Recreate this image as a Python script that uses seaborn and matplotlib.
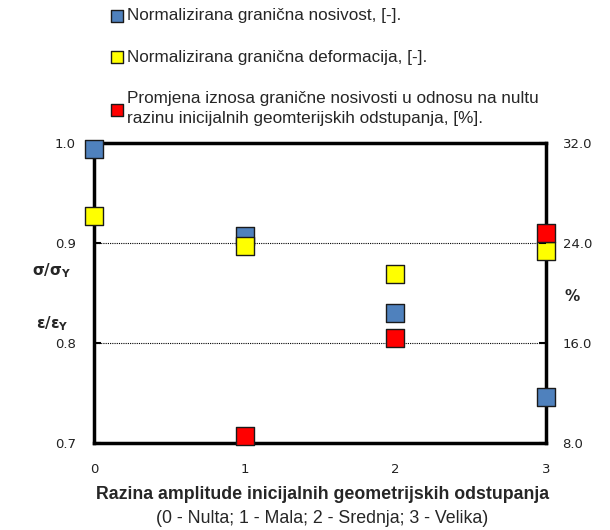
import matplotlib
matplotlib.use("Agg")
import matplotlib.pyplot as plt
import seaborn as sns
import pandas as pd

# Levels of initial geometric imperfection amplitude
levels = [0, 1, 2, 3]
# Normalized ultimate capacity, [-]
capacity = [0.994, 0.907, 0.830, 0.746]
# Normalized ultimate strain, [-]
strain = [0.927, 0.897, 0.869, 0.892]
# Change of ultimate capacity relative to the zero level, [%]
change_levels = [1, 2, 3]
change_pct = [8.6, 16.4, 24.8]

labels = [
    "Normalizirana granična nosivost, [-].",
    "Normalizirana granična deformacija, [-].",
    "Promjena iznosa granične nosivosti u odnosu na nultu\nrazinu inicijalnih geomterijskih odstupanja, [%].",
]

sns.set_theme(style="white")
plt.rcParams["font.family"] = ["DejaVu Sans"]
plt.rcParams["mathtext.fontset"] = "custom"
plt.rcParams["mathtext.rm"] = "DejaVu Sans:bold"
plt.rcParams["mathtext.it"] = "DejaVu Sans:bold"
plt.rcParams["mathtext.bf"] = "DejaVu Sans:bold"

fig = plt.figure(figsize=(6.1, 5.3), dpi=100)
ax = fig.add_axes([0.154, 0.164, 0.741, 0.566])
ax2 = ax.twinx()

df_cap = pd.DataFrame({"x": levels, "y": capacity})
df_str = pd.DataFrame({"x": levels, "y": strain})
df_chg = pd.DataFrame({"x": change_levels, "y": change_pct})

mk = dict(marker="s", s=150, edgecolor="#1a1a1a", linewidth=1.0, clip_on=False, zorder=5)
sns.scatterplot(data=df_cap, x="x", y="y", color="#4F81BD", ax=ax, label=labels[0], **mk)
sns.scatterplot(data=df_str, x="x", y="y", color="#FFFF00", ax=ax, label=labels[1], **mk)
sns.scatterplot(data=df_chg, x="x", y="y", color="#FF0000", ax=ax2, label=labels[2], **mk)

ax.set_xlim(0, 3)
ax.set_ylim(0.7, 1.0)
ax2.set_ylim(8.0, 32.0)
ax.set_xticks([0, 1, 2, 3])
ax.set_yticks([0.7, 0.8, 0.9, 1.0])
ax.set_yticklabels(["0.7", "0.8", "0.9", "1.0"])
ax2.set_yticks([8, 16, 24, 32])
ax2.set_yticklabels(["8.0", "16.0", "24.0", "32.0"])

for y in (0.8, 0.9):
    ax.axhline(y, color="black", linestyle=(0, (1, 1)), linewidth=0.8, zorder=1)

# the frame is drawn once by the primary axes; markers sit on top of it
for sp in ax.spines.values():
    sp.set_linewidth(2.5)
    sp.set_color("black")
for sp in ax2.spines.values():
    sp.set_visible(False)
for a in (ax, ax2):
    a.set_xlabel("")
    a.set_ylabel("")
ax.tick_params(axis="both", direction="in", length=5, width=1.5, color="black",
               labelsize=9.5, labelcolor="#222222")
ax.tick_params(axis="x", pad=14, top=False)
ax.tick_params(axis="y", pad=13, right=False)
ax2.tick_params(axis="y", direction="in", length=5, width=1.5, color="black",
                labelsize=9.5, labelcolor="#222222", pad=12)

ax.legend_.remove()
ax2.legend_.remove()
h1, _ = ax.get_legend_handles_labels()
h2, _ = ax2.get_legend_handles_labels()
leg = fig.legend(h1 + h2, labels, loc="upper left", bbox_to_anchor=(0.163, 1.004),
                 frameon=False, fontsize=12.3, labelspacing=1.55, handletextpad=0.2,
                 handlelength=0.8, borderaxespad=0.2)
for h in leg.legend_handles:
    h.set_sizes([70])
for t in leg.get_texts():
    t.set_family(["Liberation Sans"])
    t.set_linespacing(1.4)

fig.text(0.085, 0.49, r"$\sigma/\sigma_Y$", fontsize=11, ha="center", va="center")
fig.text(0.085, 0.39, r"$\varepsilon/\varepsilon_Y$", fontsize=11, ha="center", va="center")
fig.text(0.938, 0.44, "%", fontsize=11, fontweight="bold", ha="center", va="center")

fig.text(0.528, 0.067, "Razina amplitude inicijalnih geometrijskih odstupanja",
         fontsize=12.8, fontweight="bold", ha="center", va="center",
         family=["Liberation Sans"])
fig.text(0.528, 0.022, "(0 - Nulta; 1 - Mala; 2 - Srednja; 3 - Velika)",
         fontsize=12.8, ha="center", va="center",
         family=["Liberation Sans"])

fig.savefig("out.png", dpi=100)
